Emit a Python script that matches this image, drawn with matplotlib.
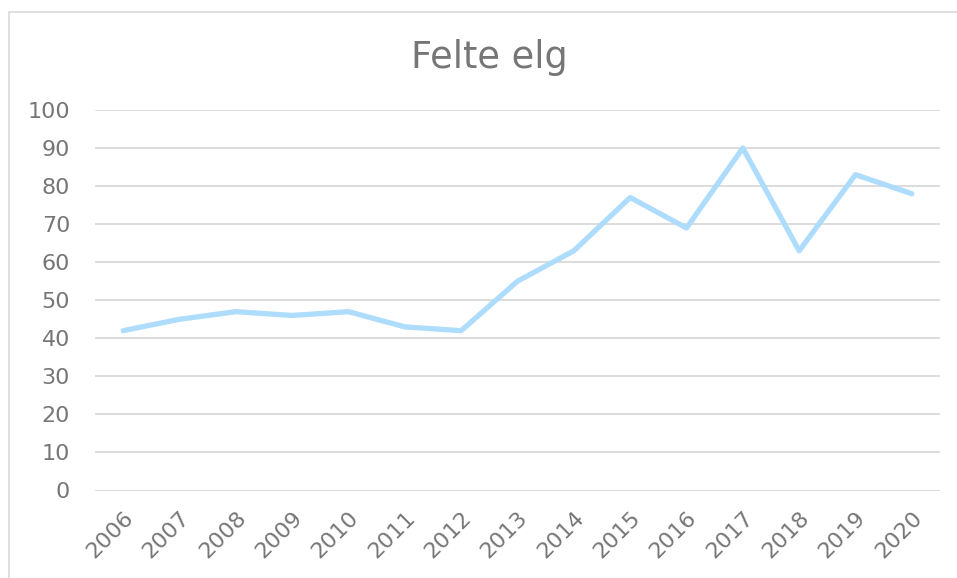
import matplotlib
matplotlib.use("Agg")
import matplotlib.pyplot as plt
import matplotlib.transforms as mtransforms
from matplotlib.patches import Rectangle

years = ["2006", "2007", "2008", "2009", "2010", "2011", "2012", "2013",
         "2014", "2015", "2016", "2017", "2018", "2019", "2020"]
felte = [42, 45, 47, 46, 47, 43, 42, 55, 63, 77, 69, 90, 63, 83, 78]
yticks = [0, 10, 20, 30, 40, 50, 60, 70, 80, 90, 100]

W, H = 957, 578
fig = plt.figure(figsize=(W / 100, H / 100), dpi=100)
txt = '#767676'

# chart frame (clipped at right/bottom like the reference)
fig.patches.append(Rectangle((9 / W, -0.05), 1.1, 1 - 12 / H + 0.05,
                             transform=fig.transFigure, fill=False,
                             edgecolor='#D9D9D9', linewidth=1.2))

ax = fig.add_axes([95 / W, 1 - 490.5 / H, (940 - 95) / W, (490.5 - 110) / H])
x = list(range(len(years)))
ax.plot(x, felte, color='#ADDCFC', linewidth=3.8, solid_capstyle='round',
        solid_joinstyle='round', zorder=3)

ax.set_xlim(-0.5, len(years) - 0.5)
ax.set_ylim(0, 100)
ax.set_yticks(yticks)
ax.set_xticks(x)
ax.set_xticklabels(years, rotation=45, ha='right', va='top',
                   rotation_mode='anchor')
offset = mtransforms.ScaledTranslation(-1 / 72, 0, fig.dpi_scale_trans)
for lab in ax.get_xticklabels():
    lab.set_transform(lab.get_transform() + offset)

ax.tick_params(axis='both', length=0, labelsize=16, labelcolor=txt)
ax.tick_params(axis='y', pad=18)
ax.tick_params(axis='x', pad=12)
ax.grid(axis='y', color='#D9D9D9', linewidth=1.3)
ax.set_axisbelow(True)
for s in ax.spines.values():
    s.set_visible(False)

fig.text(489 / W, 1 - 58 / H, "Felte elg", ha='center', va='center',
         fontsize=26.5, color=txt)

fig.savefig("out.png", dpi=100)
